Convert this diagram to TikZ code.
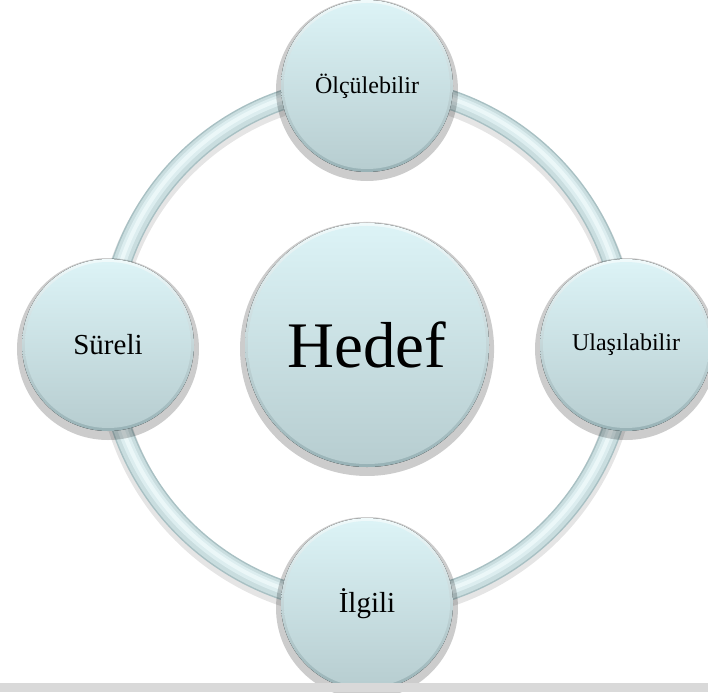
\documentclass[tikz,border=0pt]{standalone}
\usepackage{fontspec}
\setmainfont{Liberation Serif}
\usetikzlibrary{fadings,calc}

\definecolor{ballTop}{HTML}{DCF3F6}
\definecolor{ballBot}{HTML}{B7CDD0}
\definecolor{rimTop}{HTML}{F0FAFB}
\definecolor{rimBot}{HTML}{98B2B6}
\definecolor{tubeEdge}{HTML}{A8C0C3}
\definecolor{tubeBody}{HTML}{C9DDDF}
\definecolor{tubeLight}{HTML}{DCEDEF}
\definecolor{tubeGlow}{HTML}{EBF7F8}
\definecolor{stripGray}{HTML}{D9D9D9}

% soft-edged disc used for the drop shadows
\pgfdeclareradialshading{orbshadowshade}{\pgfpointorigin}{color(0bp)=(white); color(32bp)=(white); color(50bp)=(black)}
\pgfdeclarefading{orbshadow}{\pgfuseshading{orbshadowshade}}

\tikzset{
  orbface/.style={circle, inner sep=0pt, top color=ballTop, bottom color=ballBot, text=black},
  orbrim/.style={top color=rimTop, bottom color=rimBot},
  orbshade/.style={fill=black, opacity=0.2, path fading=orbshadow},
}

% name, position, radius, font size, label
\newcommand\orb[5]{%
  \fill[orbshade] ([yshift=-4pt]#2) circle[radius=#3+5];
  \fill[orbrim] (#2) circle[radius=#3];
  \node[orbface, minimum size=2*#3-6, font=\fontsize{#4}{#4}\selectfont] (#1) at (#2) {#5};
}

\begin{document}
\begin{tikzpicture}[x=1pt,y=-1pt]
  \useasboundingbox (0,0) rectangle (708,692);
  \fill[white] (0,0) rectangle (708,692);

  \coordinate (c) at (367,345);
  \coordinate (pt) at (367,86);
  \coordinate (pr) at (626,345);
  \coordinate (pb) at (367,604);
  \coordinate (pl) at (108,345);

  % the ring tube
  \draw[black, opacity=0.1, line width=24pt] ([yshift=-4pt]c) circle[radius=259];
  \draw[tubeEdge, line width=20pt] (c) circle[radius=259];
  \draw[tubeBody, line width=17pt] (c) circle[radius=259];
  \draw[tubeLight, line width=10pt] ([yshift=1pt]c) circle[radius=259];
  \draw[tubeGlow, line width=4pt] ([yshift=1.5pt]c) circle[radius=259];

  % satellites and hub
  \orb{top}{pt}{86}{24}{Ölçülebilir}
  \orb{right}{pr}{86}{24}{Ulaşılabilir}
  \orb{bottom}{pb}{86}{29}{İlgili}
  \orb{left}{pl}{86}{29}{Süreli}
  \orb{hub}{c}{122}{65}{Hedef}

  % footer strip
  \fill[stripGray] (0,683) rectangle (708,692);
\end{tikzpicture}
\end{document}
